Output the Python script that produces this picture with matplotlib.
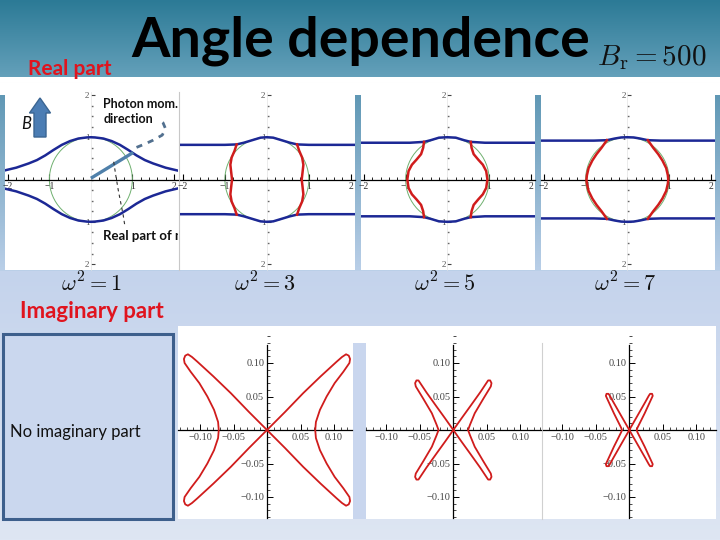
import numpy as np
import matplotlib
matplotlib.use('Agg')
import matplotlib.pyplot as plt
from matplotlib.patches import Rectangle, Circle, FancyArrow
from matplotlib.ticker import MultipleLocator

W, H = 720, 540
plt.rcParams['mathtext.fontset'] = 'cm'

# ---------------- data ----------------
title = 'Angle dependence'
subtitle = r'$B_{\mathrm{r}} = 500$'
omega_labels = [r'$\omega^2 = 1$', r'$\omega^2 = 3$', r'$\omega^2 = 5$', r'$\omega^2 = 7$']
circle_radius = 1.0

real_xticks = [-2, -1, 1, 2]
real_xticklabels = ['\u22122', '\u22121', '1', '2']
real_yticks = [2, 1, -1, -2]
real_yticklabels = ['2', '1', '1', '2']

imag_ticks = [-0.10, -0.05, 0.05, 0.10]
imag_xticklabels = ['\u22120.10', '\u22120.05', '0.05', '0.10']
imag_yticklabels = ['\u22120.10', '\u22120.05', '0.05', '0.10']

# Real part, omega^2 = 1 (blue branches only)
re1_blue_x = [-2.1, -1.8, -1.5, -1.3, -1.1, -0.9, -0.7, -0.5, -0.3, -0.1, 0.0,
              0.1, 0.3, 0.5, 0.7, 0.9, 1.1, 1.3, 1.5, 1.8, 2.1]
re1_blue_upper = [0.21, 0.28, 0.38, 0.46, 0.57, 0.70, 0.82, 0.91, 0.97, 0.995, 1.0,
                  0.995, 0.97, 0.91, 0.82, 0.70, 0.57, 0.46, 0.38, 0.28, 0.21]
re1_blue_lower = [-0.21, -0.28, -0.38, -0.46, -0.57, -0.70, -0.82, -0.91, -0.97, -0.995, -1.0,
                  -0.995, -0.97, -0.91, -0.82, -0.70, -0.57, -0.46, -0.38, -0.28, -0.21]

# Real part, omega^2 = 3
re3_blue_x = [-2.1, -1.0, -0.72, -0.55, -0.35, -0.15, 0.0, 0.15, 0.35, 0.55, 0.72, 1.0, 2.1]
re3_blue_upper = [0.82, 0.82, 0.83, 0.87, 0.93, 0.99, 1.0, 0.99, 0.93, 0.87, 0.83, 0.82, 0.82]
re3_blue_lower = [-0.82, -0.82, -0.83, -0.87, -0.93, -0.99, -1.0, -0.99, -0.93, -0.87, -0.83, -0.82, -0.82]
re3_red_y = [0.83, 0.68, 0.52, 0.35, 0.17, 0.0, -0.17, -0.35, -0.52, -0.68, -0.83]
re3_red_right = [0.72, 0.77, 0.84, 0.87, 0.85, 0.83, 0.85, 0.87, 0.84, 0.77, 0.72]
re3_red_left = [-0.72, -0.77, -0.84, -0.87, -0.85, -0.83, -0.85, -0.87, -0.84, -0.77, -0.72]

# Real part, omega^2 = 5
re5_blue_x = [-2.1, -0.9, -0.56, -0.4, -0.2, 0.0, 0.2, 0.4, 0.56, 0.9, 2.1]
re5_blue_upper = [0.87, 0.87, 0.89, 0.93, 0.99, 1.0, 0.99, 0.93, 0.89, 0.87, 0.87]
re5_blue_lower = [-0.87, -0.87, -0.89, -0.93, -0.99, -1.0, -0.99, -0.93, -0.89, -0.87, -0.87]
re5_red_y = [0.89, 0.75, 0.60, 0.47, 0.35, 0.20, 0.0, -0.20, -0.35, -0.47, -0.60, -0.75, -0.89]
re5_red_right = [0.56, 0.58, 0.63, 0.74, 0.85, 0.93, 0.96, 0.93, 0.85, 0.74, 0.63, 0.58, 0.56]
re5_red_left = [-0.56, -0.58, -0.63, -0.74, -0.85, -0.93, -0.96, -0.93, -0.85, -0.74, -0.63, -0.58, -0.56]

# Real part, omega^2 = 7
re7_blue_x = [-2.1, -0.8, -0.49, -0.3, -0.15, 0.0, 0.15, 0.3, 0.49, 0.8, 2.1]
re7_blue_upper = [0.92, 0.92, 0.93, 0.97, 0.995, 1.0, 0.995, 0.97, 0.93, 0.92, 0.92]
re7_blue_lower = [-0.92, -0.92, -0.93, -0.97, -0.995, -1.0, -0.995, -0.97, -0.93, -0.92, -0.92]
re7_red_y = [0.93, 0.75, 0.60, 0.45, 0.27, 0.10, 0.0, -0.10, -0.27, -0.45, -0.60, -0.75, -0.93]
re7_red_right = [0.49, 0.62, 0.74, 0.84, 0.93, 0.97, 0.98, 0.97, 0.93, 0.84, 0.74, 0.62, 0.49]
re7_red_left = [-0.49, -0.62, -0.74, -0.84, -0.93, -0.97, -0.98, -0.97, -0.93, -0.84, -0.74, -0.62, -0.49]

# Annotation paths in the omega^2 = 1 panel
photon_line_x = [0.0, 1.02]
photon_line_y = [0.03, 0.64]
photon_arrow_x = [1.10, 1.30, 1.50, 1.72, 1.80, 1.74, 1.62]
photon_arrow_y = [0.76, 0.84, 0.93, 1.05, 1.20, 1.34, 1.44]
realn_x = [0.55, 0.60, 0.66, 0.72, 0.78, 0.82]
realn_y = [0.42, 0.10, -0.25, -0.55, -0.85, -1.10]

# Imaginary part, omega^2 = 3
im3_x = [0.0, 0.027, 0.054, 0.080, 0.104, 0.112, 0.118, 0.122, 0.124, 0.123, 0.114, 0.101, 0.089, 0.079, 0.073, 0.072,
         0.073, 0.079, 0.089, 0.101, 0.114, 0.123, 0.124, 0.122, 0.118, 0.112, 0.104, 0.080, 0.054, 0.027, 0.0,
         -0.027, -0.054, -0.080, -0.104, -0.112, -0.118, -0.122, -0.124, -0.123, -0.114, -0.101, -0.089, -0.079, -0.073, -0.072,
         -0.073, -0.079, -0.089, -0.101, -0.114, -0.123, -0.124, -0.122, -0.118, -0.112, -0.104, -0.080, -0.054, -0.027, 0.0]
im3_y = [0.0, 0.027, 0.055, 0.080, 0.102, 0.109, 0.113, 0.111, 0.106, 0.100, 0.087, 0.070, 0.050, 0.030, 0.012, 0.0,
         -0.012, -0.030, -0.050, -0.070, -0.087, -0.100, -0.106, -0.111, -0.113, -0.109, -0.102, -0.080, -0.055, -0.027, 0.0,
         0.027, 0.055, 0.080, 0.102, 0.109, 0.113, 0.111, 0.106, 0.100, 0.087, 0.070, 0.050, 0.030, 0.012, 0.0,
         -0.012, -0.030, -0.050, -0.070, -0.087, -0.100, -0.106, -0.111, -0.113, -0.109, -0.102, -0.080, -0.055, -0.027, 0.0]

# Imaginary part, omega^2 = 5
im5_x = [0.0, 0.012, 0.025, 0.040, 0.048, 0.052, 0.055, 0.057, 0.056, 0.045, 0.032, 0.025, 0.022,
         0.025, 0.032, 0.045, 0.056, 0.057, 0.055, 0.052, 0.048, 0.040, 0.025, 0.012, 0.0,
         -0.012, -0.025, -0.040, -0.048, -0.052, -0.055, -0.057, -0.056, -0.045, -0.032, -0.025, -0.022,
         -0.025, -0.032, -0.045, -0.056, -0.057, -0.055, -0.052, -0.048, -0.040, -0.025, -0.012, 0.0]
im5_y = [0.0, 0.017, 0.035, 0.056, 0.068, 0.074, 0.074, 0.070, 0.065, 0.047, 0.025, 0.008, 0.0,
         -0.008, -0.025, -0.047, -0.065, -0.070, -0.074, -0.074, -0.068, -0.056, -0.035, -0.017, 0.0,
         0.017, 0.035, 0.056, 0.068, 0.074, 0.074, 0.070, 0.065, 0.047, 0.025, 0.008, 0.0,
         -0.008, -0.025, -0.047, -0.065, -0.070, -0.074, -0.074, -0.068, -0.056, -0.035, -0.017, 0.0]

# Imaginary part, omega^2 = 7
im7_x = [0.0, 0.008, 0.016, 0.024, 0.029, 0.031, 0.034, 0.035, 0.029, 0.023, 0.016, 0.012, 0.011,
         0.012, 0.016, 0.023, 0.029, 0.035, 0.034, 0.031, 0.029, 0.024, 0.016, 0.008, 0.0,
         -0.008, -0.016, -0.024, -0.029, -0.031, -0.034, -0.035, -0.029, -0.023, -0.016, -0.012, -0.011,
         -0.012, -0.016, -0.023, -0.029, -0.035, -0.034, -0.031, -0.029, -0.024, -0.016, -0.008, 0.0]
im7_y = [0.0, 0.014, 0.028, 0.042, 0.051, 0.054, 0.054, 0.051, 0.038, 0.025, 0.011, 0.003, 0.0,
         -0.003, -0.011, -0.025, -0.038, -0.051, -0.054, -0.054, -0.051, -0.042, -0.028, -0.014, 0.0,
         0.014, 0.028, 0.042, 0.051, 0.054, 0.054, 0.051, 0.038, 0.025, 0.011, 0.003, 0.0,
         -0.003, -0.011, -0.025, -0.038, -0.051, -0.054, -0.054, -0.051, -0.042, -0.028, -0.014, 0.0]

# ---------------- styling ----------------
BLUE = '#1c2895'
RED = '#d01c1c'
GREEN = '#6fb06f'
TXT_RED = '#e0141e'
SANS = ['Lato', 'DejaVu Sans']
SERIF = ['Liberation Serif', 'DejaVu Serif']

fig = plt.figure(figsize=(7.2, 5.4), dpi=100)


def px_axes(x0, y0, x1, y1, zorder=1):
    ax = fig.add_axes([x0 / W, 1 - y1 / H, (x1 - x0) / W, (y1 - y0) / H])
    ax.set_zorder(zorder)
    return ax


# background
bg = px_axes(0, 0, W, H, zorder=0)
bg.set_xlim(0, W)
bg.set_ylim(H, 0)
bg.axis('off')
img = np.zeros((H, W, 3))
def grad(r0, r1, c0, c1):
    t = np.linspace(0, 1, r1 - r0)[:, None]
    img[r0:r1, :, :] = (np.array(c0) * (1 - t) + np.array(c1) * t)[:, None, :] / 255.0
grad(0, 77, (44, 122, 150), (100, 160, 186))
grad(77, 95, (255, 255, 255), (255, 255, 255))
grad(95, 271, (96, 152, 181), (186, 207, 232))
grad(271, H, (196, 211, 236), (222, 230, 243))
bg.imshow(img, extent=(0, W, H, 0), aspect='auto', zorder=0, interpolation='bilinear')

# white panels for the real part row
for (x0, x1) in [(5, 178.5), (179.5, 355), (361, 535), (541, 715)]:
    bg.add_patch(Rectangle((x0, 92), x1 - x0, 270 - 92, fc='white', ec='none', zorder=1))
bg.plot([179, 179], [92, 270], color='#c8c8c8', lw=0.8, zorder=2)

# white area for the imaginary part row
bg.add_patch(Rectangle((178, 326), 538, 193, fc='white', ec='none', zorder=1))
bg.add_patch(Rectangle((353, 343), 13, 176, fc='#c9d6ee', ec='none', zorder=2))
bg.plot([542, 542], [343, 519], color='#d0d0d0', lw=0.8, zorder=2)

# "No imaginary part" box
bg.add_patch(Rectangle((3, 334), 170, 185, fc='#cad7ee', ec='#3d5f8c', lw=2.2, zorder=2))
bg.text(10, 432, 'No imaginary part', fontsize=12, family=SANS, color='#111', va='center', ha='left', zorder=3)

# titles
bg.text(361, 57, title, fontsize=40, fontweight='bold', family=SANS, color='black', ha='center', va='baseline', zorder=3)
bg.text(597, 65, subtitle, fontsize=21, color='#111', ha='left', va='baseline', zorder=3)
bg.text(28, 75, 'Real part', fontsize=15, fontweight='bold', family=SANS, color=TXT_RED, ha='left', va='baseline', zorder=3)
bg.text(20, 318, 'Imaginary part', fontsize=16, fontweight='bold', family=SANS, color=TXT_RED, ha='left', va='baseline', zorder=3)
for cx, lab in zip([91, 265, 445, 625], omega_labels):
    bg.text(cx, 283, lab, fontsize=16, color='#111', ha='center', va='center', zorder=3)


def setup_real(ax):
    ax.set_xlim(-2.07, 2.1)
    ax.set_ylim(-2.14, 2.07)
    ax.patch.set_visible(False)
    for s in ['top', 'right']:
        ax.spines[s].set_visible(False)
    ax.spines['bottom'].set_position(('data', 0))
    ax.spines['left'].set_position(('data', 0))
    ax.spines['bottom'].set_linewidth(0.9)
    ax.spines['left'].set_color('#e4e4e4')
    ax.spines['left'].set_linewidth(0.5)
    ax.set_xticks(real_xticks)
    ax.set_xticklabels(real_xticklabels)
    ax.xaxis.set_minor_locator(MultipleLocator(0.2))
    ax.set_yticks(real_yticks)
    ax.set_yticklabels(real_yticklabels)
    ax.yaxis.set_minor_locator(MultipleLocator(0.25))
    ax.tick_params(axis='x', which='major', direction='in', length=4, width=0.8, labelsize=7, pad=1.5, labelcolor='#333')
    ax.tick_params(axis='x', which='minor', direction='in', length=2, width=0.6)
    ax.tick_params(axis='y', which='major', direction='in', length=3, width=0.8, color='#444', labelsize=6.5, pad=1, labelcolor='#555')
    ax.tick_params(axis='y', which='minor', direction='in', length=1.2, width=1.0, color='#666')
    for lab in ax.get_xticklabels() + ax.get_yticklabels():
        lab.set_family(SERIF)
    ax.add_patch(Circle((0, 0), circle_radius, fill=False, ec=GREEN, lw=0.7, zorder=2))


real_rects = [(5, 92, 178, 270), (180, 92, 355, 270), (361, 92, 535, 270), (541, 92, 715, 270)]
ax1 = px_axes(*real_rects[0], zorder=2)
setup_real(ax1)
ax1.plot(re1_blue_x, re1_blue_upper, color=BLUE, lw=1.8, zorder=3)
ax1.plot(re1_blue_x, re1_blue_lower, color=BLUE, lw=1.8, zorder=3)
ax1.plot(photon_line_x, photon_line_y, color='#4f80aa', lw=2.4, zorder=4, solid_capstyle='butt')
ax1.plot(photon_arrow_x, photon_arrow_y, color='#52708f', lw=2.0, ls=(0, (2.2, 2.2)), zorder=4)
ax1.plot(realn_x, realn_y, color='#333333', lw=0.8, ls=(0, (3, 3)), zorder=4)
ax1.text(0.30, 1.78, 'Photon mom.', fontsize=9, fontweight='bold', family=SANS, color='#111', va='center', ha='left', clip_on=True)
ax1.text(0.30, 1.42, 'direction', fontsize=9, fontweight='bold', family=SANS, color='#111', va='center', ha='left', clip_on=True)
ax1.text(0.30, -1.33, 'Real part of n', fontsize=9.5, fontweight='bold', family=SANS, color='#111', va='center', ha='left', clip_on=True)

ax3 = px_axes(*real_rects[1], zorder=2)
setup_real(ax3)
ax3.plot(re3_blue_x, re3_blue_upper, color=BLUE, lw=1.8, zorder=3)
ax3.plot(re3_blue_x, re3_blue_lower, color=BLUE, lw=1.8, zorder=3)
ax3.plot(re3_red_right, re3_red_y, color=RED, lw=1.8, zorder=3)
ax3.plot(re3_red_left, re3_red_y, color=RED, lw=1.8, zorder=3)

ax5 = px_axes(*real_rects[2], zorder=2)
setup_real(ax5)
ax5.plot(re5_blue_x, re5_blue_upper, color=BLUE, lw=1.8, zorder=3)
ax5.plot(re5_blue_x, re5_blue_lower, color=BLUE, lw=1.8, zorder=3)
ax5.plot(re5_red_right, re5_red_y, color=RED, lw=1.8, zorder=3)
ax5.plot(re5_red_left, re5_red_y, color=RED, lw=1.8, zorder=3)

ax7 = px_axes(*real_rects[3], zorder=2)
setup_real(ax7)
ax7.plot(re7_blue_x, re7_blue_upper, color=BLUE, lw=1.8, zorder=3)
ax7.plot(re7_blue_x, re7_blue_lower, color=BLUE, lw=1.8, zorder=3)
ax7.plot(re7_red_right, re7_red_y, color=RED, lw=1.8, zorder=3)
ax7.plot(re7_red_left, re7_red_y, color=RED, lw=1.8, zorder=3)


def setup_imag(ax, cx, x0, x1):
    ax.set_xlim((x0 - cx) / 670.0, (x1 - cx) / 670.0)
    ax.set_ylim((430 - 518) / 670.0, (430 - 333) / 670.0)
    ax.patch.set_visible(False)
    for s in ['top', 'right']:
        ax.spines[s].set_visible(False)
    ax.spines['bottom'].set_position(('data', 0))
    ax.spines['left'].set_position(('data', 0))
    ax.spines['left'].set_bounds(-0.132, 0.127)
    for s in ['bottom', 'left']:
        ax.spines[s].set_linewidth(0.9)
    ax.set_xticks(imag_ticks)
    ax.set_xticklabels(imag_xticklabels)
    ax.set_yticks(imag_ticks)
    ax.set_yticklabels(imag_yticklabels)
    ax.xaxis.set_minor_locator(MultipleLocator(0.01))
    ax.yaxis.set_minor_locator(MultipleLocator(0.01))
    ax.tick_params(which='major', direction='in', length=4, width=0.7, labelsize=7.5, pad=2, labelcolor='#444')
    ax.tick_params(which='minor', direction='in', length=2, width=0.5)
    for lab in ax.get_xticklabels() + ax.get_yticklabels():
        lab.set_family(SERIF)


imag_specs = [((178, 333, 352, 518), 267.0, im3_x, im3_y),
              ((366, 333, 541, 518), 453.3, im5_x, im5_y),
              ((543, 333, 716, 518), 629.3, im7_x, im7_y)]
for rect, cx, xs, ys in imag_specs:
    ax = px_axes(*rect, zorder=2)
    setup_imag(ax, cx, rect[0], rect[2])
    ax.plot(xs, ys, color=RED, lw=1.3, zorder=3)

# overlay: magnetic field arrow
fg = px_axes(0, 0, W, H, zorder=5)
fg.set_xlim(0, W)
fg.set_ylim(H, 0)
fg.axis('off')
fg.patch.set_visible(False)
fg.add_patch(FancyArrow(40, 137, 0, -39, width=12, head_width=21, head_length=15,
                        length_includes_head=True, fc='#4b7db4', ec='#3a6592', lw=1))
fg.text(26, 124, 'B', fontsize=12, family=SANS, style='italic', color='#111', ha='center', va='center')

fig.savefig('out.png', dpi=100)
